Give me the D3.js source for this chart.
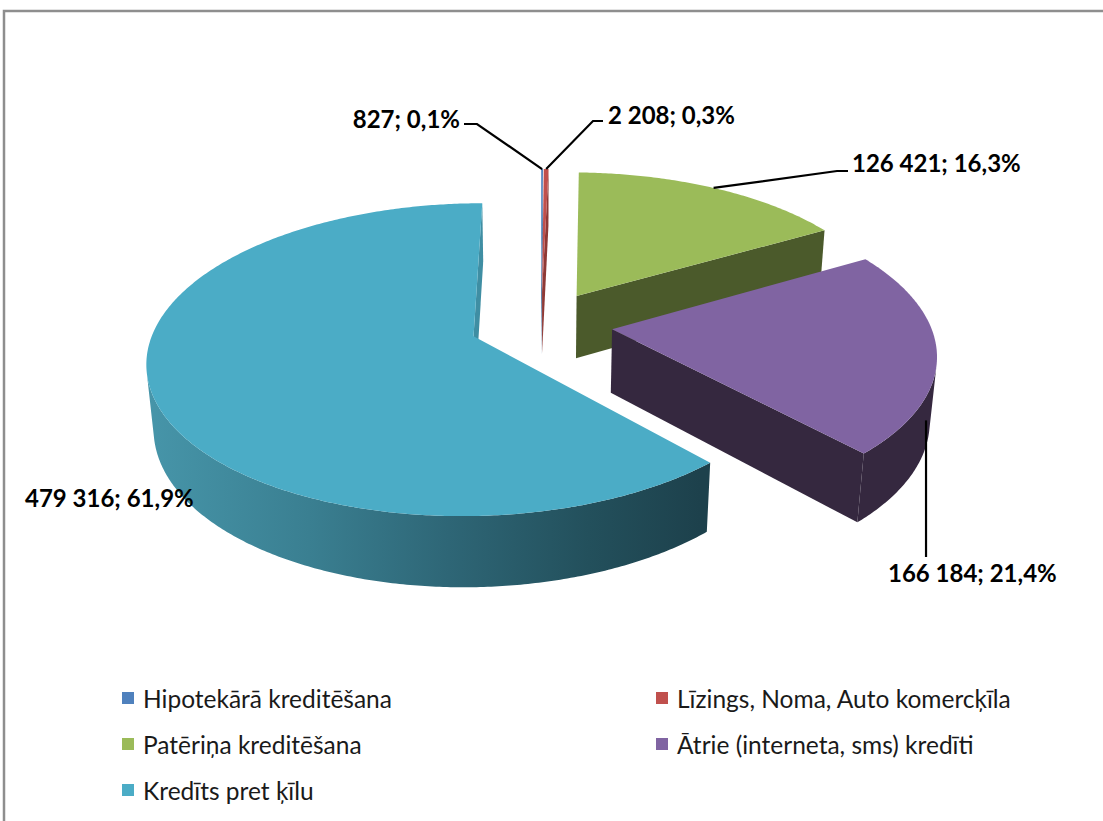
<!DOCTYPE html>
<html><head><meta charset="utf-8">
<script src="https://cdn.jsdelivr.net/npm/d3@7"></script>
<style>body{margin:0;background:#fff;} svg{display:block;}</style>
</head><body><svg id="c" width="1103" height="821"></svg>
<script>
// ---- data ----
const categories = ["Hipotekārā kreditēšana", "Līzings, Noma, Auto komercķīla", "Patēriņa kreditēšana", "Ātrie (interneta, sms) kredīti", "Kredīts pret ķīlu"];
const values = [827, 2208, 126421, 166184, 479316];
const valueLabels = ["827; 0,1%", "2 208; 0,3%", "126 421; 16,3%", "166 184; 21,4%", "479 316; 61,9%"];
const topColors = ["#4F81BD", "#C0504D", "#9BBB59", "#8064A2", "#4BACC6"];
const wallColors = ["#2B4668", "#6B2B29", "#4B5A2B", "#35283F", "url(#tealWall)"];
const radialColors = ["#3A6190", "#8E3936", "#4B5A2B", "#35283F", "#3F8EA3"];

const W = 1103, H = 821;
const svg = d3.select("#c");
svg.append("rect").attr("width", W).attr("height", H).attr("fill", "#fff");
svg.append("rect").attr("x", 4).attr("y", 11).attr("width", W + 20).attr("height", H + 20)
  .attr("fill", "none").attr("stroke", "#8e8e8e").attr("stroke-width", 2.5);

const defs = svg.append("defs");
const g1 = defs.append("linearGradient").attr("id", "tealWall").attr("gradientUnits", "userSpaceOnUse")
  .attr("x1", 142).attr("x2", 700).attr("y1", 0).attr("y2", 0);
[[0, "#4796AA"], [0.3, "#3A7F91"], [0.55, "#2E6676"], [0.8, "#23505C"], [1, "#1D414C"]]
  .forEach(([o, c]) => g1.append("stop").attr("offset", o).attr("stop-color", c));

// ---- 3D pie projection ----
const pieData = d3.pie().sort(null).value(d => d).startAngle(0).endAngle(2 * Math.PI)(values);
const cam = {X0: 541, Y0: 324, S: 318, phi: 28 * Math.PI / 180, D: 6, e: 0.225, h: 0.23};
const sp = Math.sin(cam.phi), cp = Math.cos(cam.phi);
const eye = [0, cam.D * sp, -cam.D * cp];
function proj(p) {
  const [x, y, z] = p;
  const v = z * sp + y * cp, w = z * cp - y * sp;
  const k = cam.D / (cam.D + w);
  return [cam.X0 + cam.S * k * x, cam.Y0 - cam.S * k * v];
}
const slices = pieData.map((a, i) => {
  const m = (a.startAngle + a.endAngle) / 2;
  return {i, a0: a.startAngle, a1: a.endAngle, m, ox: cam.e * Math.sin(m), oz: cam.e * Math.cos(m)};
});
const rim = (s, t, y) => [s.ox + Math.sin(t), y, s.oz + Math.cos(t)];
const ctr = (s, y) => [s.ox, y, s.oz];
const poly = d3.line().curve(d3.curveLinearClosed);
const pl = d3.line();

function samples(s) {
  const n = Math.max(3, Math.ceil((s.a1 - s.a0) / 0.01));
  return d3.range(n + 1).map(j => s.a0 + (s.a1 - s.a0) * j / n);
}

const order = slices.slice().sort((p, q) => q.oz - p.oz);
const gPie = svg.append("g");
order.forEach(s => {
  const g = gPie.append("g");
  const h = -cam.h;
  // radial walls
  const toEye = [eye[0] - s.ox, eye[2] - s.oz];
  const walls = [
    {a: s.a0, n: [-Math.cos(s.a0), Math.sin(s.a0)]},
    {a: s.a1, n: [Math.cos(s.a1), -Math.sin(s.a1)]}
  ];
  walls.forEach(wl => {
    if (wl.n[0] * toEye[0] + wl.n[1] * toEye[1] > 0) {
      const pts = [ctr(s, 0), rim(s, wl.a, 0), rim(s, wl.a, h), ctr(s, h)].map(proj);
      g.append("path").attr("d", poly(pts)).attr("fill", radialColors[s.i]);
    }
  });
  // outer wall (visible runs)
  const ts = samples(s);
  let runs = [], cur = [];
  ts.forEach(t => {
    const p = rim(s, t, 0);
    const vis = Math.sin(t) * (eye[0] - p[0]) + Math.cos(t) * (eye[2] - p[2]) > 0;
    if (vis) cur.push(t); else { if (cur.length > 1) runs.push(cur); cur = []; }
  });
  if (cur.length > 1) runs.push(cur);
  runs.forEach(r => {
    const pts = r.map(t => proj(rim(s, t, 0))).concat(r.slice().reverse().map(t => proj(rim(s, t, h))));
    g.append("path").attr("d", poly(pts)).attr("fill", wallColors[s.i]);
  });
  // top face
  const top = [proj(ctr(s, 0))].concat(ts.map(t => proj(rim(s, t, 0))));
  g.append("path").attr("d", poly(top)).attr("fill", topColors[s.i]);
});

// ---- data labels ----
const labelFont = "Lato, 'Open Sans', sans-serif";
const labelPos = [
  {x: 460, y: 118, anchor: "end"},
  {x: 608, y: 114, anchor: "start"},
  {x: 852, y: 162, anchor: "start"},
  {x: 888, y: 572, anchor: "start"},
  {x: 25, y: 497, anchor: "start"}
];
const gLab = svg.append("g");
slices.forEach(s => {
  const lp = labelPos[s.i];
  let pts = null;
  const a = proj(rim(s, s.m, 0));
  if (s.i === 0) pts = [a, [lp.x + 17, lp.y + 6], [lp.x + 4, lp.y + 6]];
  if (s.i === 1) pts = [a, [lp.x - 15, lp.y + 7], [lp.x - 5, lp.y + 7]];
  if (s.i === 2) pts = [a, [lp.x - 15, lp.y + 9], [lp.x - 4, lp.y + 9]];
  if (s.i === 3) { const b = proj(rim(s, s.m + 0.24, -cam.h * 0.45)); pts = [b, [b[0], lp.y - 15]]; }
  if (pts) gLab.append("path").attr("d", pl(pts)).attr("fill", "none").attr("stroke", "#000").attr("stroke-width", 2.2);
  gLab.append("text").attr("x", lp.x).attr("y", lp.y).attr("text-anchor", lp.anchor)
    .attr("dominant-baseline", "central").attr("font-family", labelFont).attr("font-weight", 700)
    .attr("font-size", 24).attr("fill", "#000").text(valueLabels[s.i]);
});

// ---- legend ----
const legendPos = [[122, 698], [656, 698], [122, 744], [656, 744], [122, 790]];
const gLeg = svg.append("g");
categories.forEach((c, i) => {
  const [x, y] = legendPos[i];
  gLeg.append("rect").attr("x", x).attr("y", y - 6).attr("width", 12).attr("height", 12).attr("fill", topColors[i]);
  gLeg.append("text").attr("x", x + 21).attr("y", y).attr("dominant-baseline", "central")
    .attr("font-family", labelFont).attr("font-size", 24.5).attr("fill", "#1a1a1a").text(c);
});
</script></body></html>
